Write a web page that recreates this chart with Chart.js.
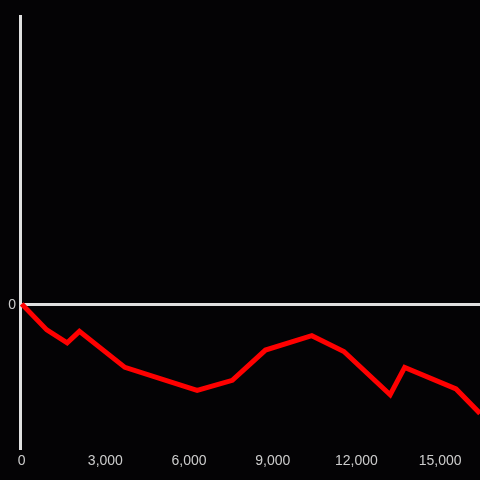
<!DOCTYPE html>
<html>
<head>
<meta charset="utf-8">
<script src="https://cdn.jsdelivr.net/npm/chart.js@4"></script>
<style>
html,body{margin:0;padding:0;background:#040305;}
#wrap{width:480px;height:480px;}
</style>
</head>
<body>
<div id="wrap"><canvas id="c" width="480" height="480"></canvas></div>
<script>
const xValues = [0, 900, 1630, 2070, 3700, 6290, 7550, 8740, 10400, 11550, 13210, 13730, 15570, 16430];
const yValues = [0, -18, -27, -19, -44, -60, -53, -32, -22, -33, -63, -44, -59, -76];
const xTicks = [0, 3000, 6000, 9000, 12000, 15000];
const xMin = -60, xMax = 16430;
const yMin = -100, yMax = 200;

const bg = {
  id: 'bg',
  beforeDraw(chart) {
    const ctx = chart.ctx;
    ctx.save();
    ctx.fillStyle = '#040305';
    ctx.fillRect(0, 0, chart.width, chart.height);
    ctx.restore();
  }
};

new Chart(document.getElementById('c'), {
  type: 'line',
  data: {
    datasets: [{
      data: xValues.map((x, i) => ({x: x, y: yValues[i]})),
      borderColor: '#ff0000',
      borderWidth: 5,
      pointRadius: 0,
      tension: 0,
      fill: false,
      borderJoinStyle: 'miter'
    }]
  },
  options: {
    responsive: false,
    animation: false,
    devicePixelRatio: 1,
    layout: {padding: {top: 16, right: 0, left: 0, bottom: 0}},
    plugins: {legend: {display: false}, tooltip: {enabled: false}},
    scales: {
      x: {
        type: 'linear',
        min: xMin,
        max: xMax,
        afterBuildTicks(s) { s.ticks = xTicks.map(v => ({value: v})); },
        grid: {display: false},
        border: {display: false},
        ticks: {
          color: '#cccccc',
          font: {family: 'Liberation Sans, Arial, sans-serif', size: 14},
          padding: -3,
          maxRotation: 0,
          autoSkip: false,
          callback: v => v.toLocaleString('en-US')
        },
        afterFit(s) { s.height = 32; s.paddingRight = 0; s.paddingLeft = 0; }
      },
      y: {
        min: yMin,
        max: yMax,
        afterBuildTicks(s) { s.ticks = [{value: 0}]; },
        grid: {color: '#e0e0e0', lineWidth: 3, drawTicks: false},
        border: {display: true, color: '#e0e0e0', width: 3},
        ticks: {
          color: '#cccccc',
          font: {family: 'Liberation Sans, Arial, sans-serif', size: 14},
          padding: 4,
          labelOffset: 1
        },
        afterFit(s) { s.width = 20; }
      }
    }
  },
  plugins: [bg]
});
</script>
</body>
</html>
